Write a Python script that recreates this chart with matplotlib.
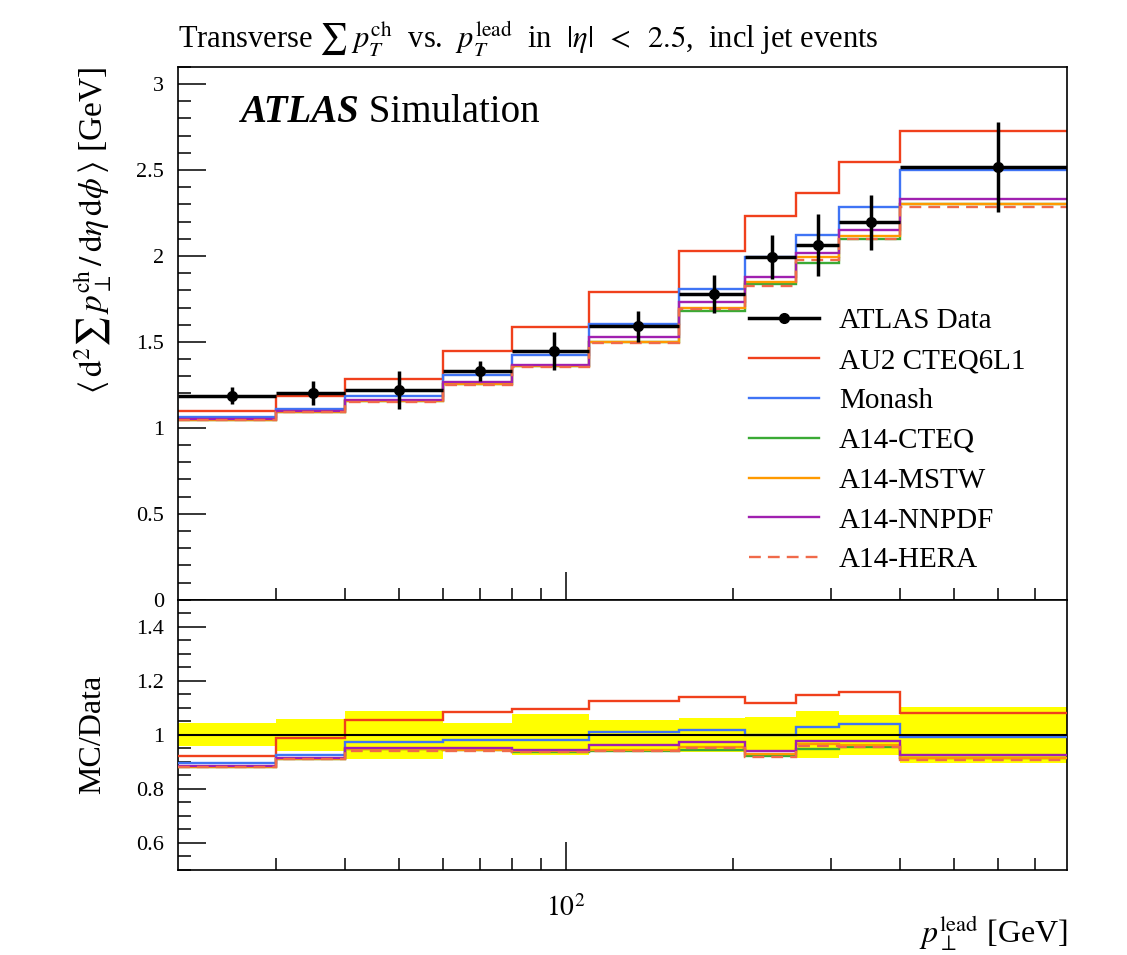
import numpy as np
import matplotlib
matplotlib.use("Agg")
import matplotlib.pyplot as plt
from matplotlib.ticker import MultipleLocator, FixedLocator, NullFormatter, FixedFormatter
from matplotlib.lines import Line2D

plt.rcParams['font.family'] = ['Liberation Serif', 'DejaVu Serif']
plt.rcParams['mathtext.fontset'] = 'stix'

# bin edges in p_T^lead [GeV]
edges = [20, 30, 40, 60, 80, 110, 160, 210, 260, 310, 400, 800]

# ATLAS data and total uncertainty
data = [1.187, 1.200, 1.220, 1.330, 1.448, 1.590, 1.778, 1.994, 2.063, 2.196, 2.518]
data_err = [0.05, 0.07, 0.11, 0.06, 0.11, 0.09, 0.11, 0.13, 0.18, 0.16, 0.26]

# MC predictions
au2_cteq6l1 = [1.096, 1.186, 1.285, 1.445, 1.588, 1.789, 2.027, 2.232, 2.366, 2.545, 2.726]
monash = [1.062, 1.110, 1.186, 1.305, 1.423, 1.605, 1.810, 1.994, 2.120, 2.285, 2.498]
a14_cteq = [1.047, 1.094, 1.154, 1.255, 1.358, 1.497, 1.680, 1.835, 1.957, 2.098, 2.302]
a14_mstw = [1.048, 1.095, 1.156, 1.257, 1.362, 1.500, 1.700, 1.850, 1.995, 2.115, 2.305]
a14_nnpdf = [1.050, 1.097, 1.160, 1.264, 1.365, 1.528, 1.730, 1.875, 2.018, 2.150, 2.330]
a14_hera = [1.045, 1.092, 1.148, 1.252, 1.356, 1.495, 1.690, 1.828, 1.975, 2.098, 2.287]

mc_list = [
    ("AU2 CTEQ6L1", au2_cteq6l1, "#f0401c", "-"),
    ("Monash", monash, "#3f74f5", "-"),
    ("A14-CTEQ", a14_cteq, "#3aaa35", "-"),
    ("A14-MSTW", a14_mstw, "#ff9a00", "-"),
    ("A14-NNPDF", a14_nnpdf, "#a020b0", "-"),
    ("A14-HERA", a14_hera, "#f06a4a", (0, (5, 3))),
]

edges_a = np.array(edges, dtype=float)
centers = 0.5 * (edges_a[:-1] + edges_a[1:])
data_a = np.array(data)
err_a = np.array(data_err)

fig = plt.figure(figsize=(11.27, 9.55), dpi=100)
ax = fig.add_axes([0.158, 0.372, 0.789, 0.558])
ax2 = fig.add_axes([0.158, 0.089, 0.789, 0.283], sharex=ax)

# --- main panel ---
for name, vals, col, ls in mc_list:
    ax.stairs(vals, edges, color=col, lw=1.7, linestyle=ls, baseline=None, zorder=2)

ax.errorbar(centers, data, yerr=data_err,
            xerr=[centers - edges_a[:-1], edges_a[1:] - centers],
            fmt='o', color='black', ms=7, lw=2.5, capsize=0, zorder=5)

ax.set_xscale('log')
ax.set_xlim(20, 800)
ax.set_ylim(0, 3.1)
ax.yaxis.set_major_locator(FixedLocator([0, 0.5, 1, 1.5, 2, 2.5, 3]))
ax.yaxis.set_major_formatter(FixedFormatter(["0", "0.5", "1", "1.5", "2", "2.5", "3"]))
ax.yaxis.set_minor_locator(MultipleLocator(0.1))

for a in (ax, ax2):
    a.xaxis.set_major_locator(FixedLocator([100]))
    a.xaxis.set_minor_locator(FixedLocator([30, 40, 50, 60, 70, 80, 90, 200, 300, 400, 500, 600, 700]))
    a.xaxis.set_minor_formatter(NullFormatter())
    a.tick_params(which='both', direction='in', top=False, right=False, labelsize=16, width=1.1)
    a.tick_params(which='major', length=20)
    a.tick_params(which='minor', length=9)
    a.tick_params(axis='y', pad=10)
    for s in a.spines.values():
        s.set_linewidth(1.2)
plt.setp(ax.get_xticklabels(), visible=False)

ax.set_ylabel(r"$\langle\,\mathrm{d}^2 \sum\, p_\perp^{\mathrm{ch}}\,/\,\mathrm{d}\eta\,\mathrm{d}\phi\,\rangle$ [GeV]",
              fontsize=24, loc='top')
ax.yaxis.set_label_coords(-0.072, 1.0)

ax.set_title(r"Transverse $\sum\; p_T^{\mathrm{ch}}$  vs.  $p_T^{\mathrm{lead}}$  in  $|\eta|\;\;<\;\;2.5$,  incl jet events",
             loc='left', fontsize=22, pad=14)

t1 = ax.text(0.07, 0.915, "ATLAS", transform=ax.transAxes, fontsize=28,
             fontweight='bold', fontstyle='italic', va='center', ha='left')
ax.annotate(" Simulation", xy=(1, 0), xycoords=t1, fontsize=28, va='bottom', ha='left')

handles = [Line2D([], [], color='black', marker='o', ms=7, lw=2.5)]
labels = ["ATLAS Data"]
for name, vals, col, ls in mc_list:
    handles.append(Line2D([], [], color=col, lw=1.7, linestyle=ls))
    labels.append(name)
ax.legend(handles, labels, loc='lower left', bbox_to_anchor=(0.612, 0.0), frameon=False,
          fontsize=21, handlelength=2.4, handletextpad=0.7, labelspacing=0.46)

# --- ratio panel ---
rel = err_a / data_a
ax2.stairs(1 + rel, edges, baseline=1 - rel, fill=True, color='#ffff00', lw=0, zorder=1)
ax2.axhline(1.0, color='black', lw=1.5, zorder=4)
for name, vals, col, ls in mc_list:
    ax2.stairs(np.array(vals) / data_a, edges, color=col, lw=1.7, linestyle=ls, baseline=None, zorder=3)

ax2.set_ylim(0.5, 1.5)
ax2.yaxis.set_major_locator(FixedLocator([0.6, 0.8, 1.0, 1.2, 1.4]))
ax2.yaxis.set_major_formatter(FixedFormatter(["0.6", "0.8", "1", "1.2", "1.4"]))
ax2.yaxis.set_minor_locator(MultipleLocator(0.05))
ax2.xaxis.set_major_formatter(FixedFormatter([r"$10^2$"]))
ax2.tick_params(axis='x', pad=18, labelsize=20)

ax2.set_ylabel("MC/Data", fontsize=23)
ax2.yaxis.set_label_coords(-0.08, 0.5)
ax2.set_xlabel(r"$p_\perp^{\mathrm{lead}}$ [GeV]", fontsize=23, loc='right')
ax2.xaxis.set_label_coords(1.0, -0.16)

fig.savefig("out.png", dpi=100)
